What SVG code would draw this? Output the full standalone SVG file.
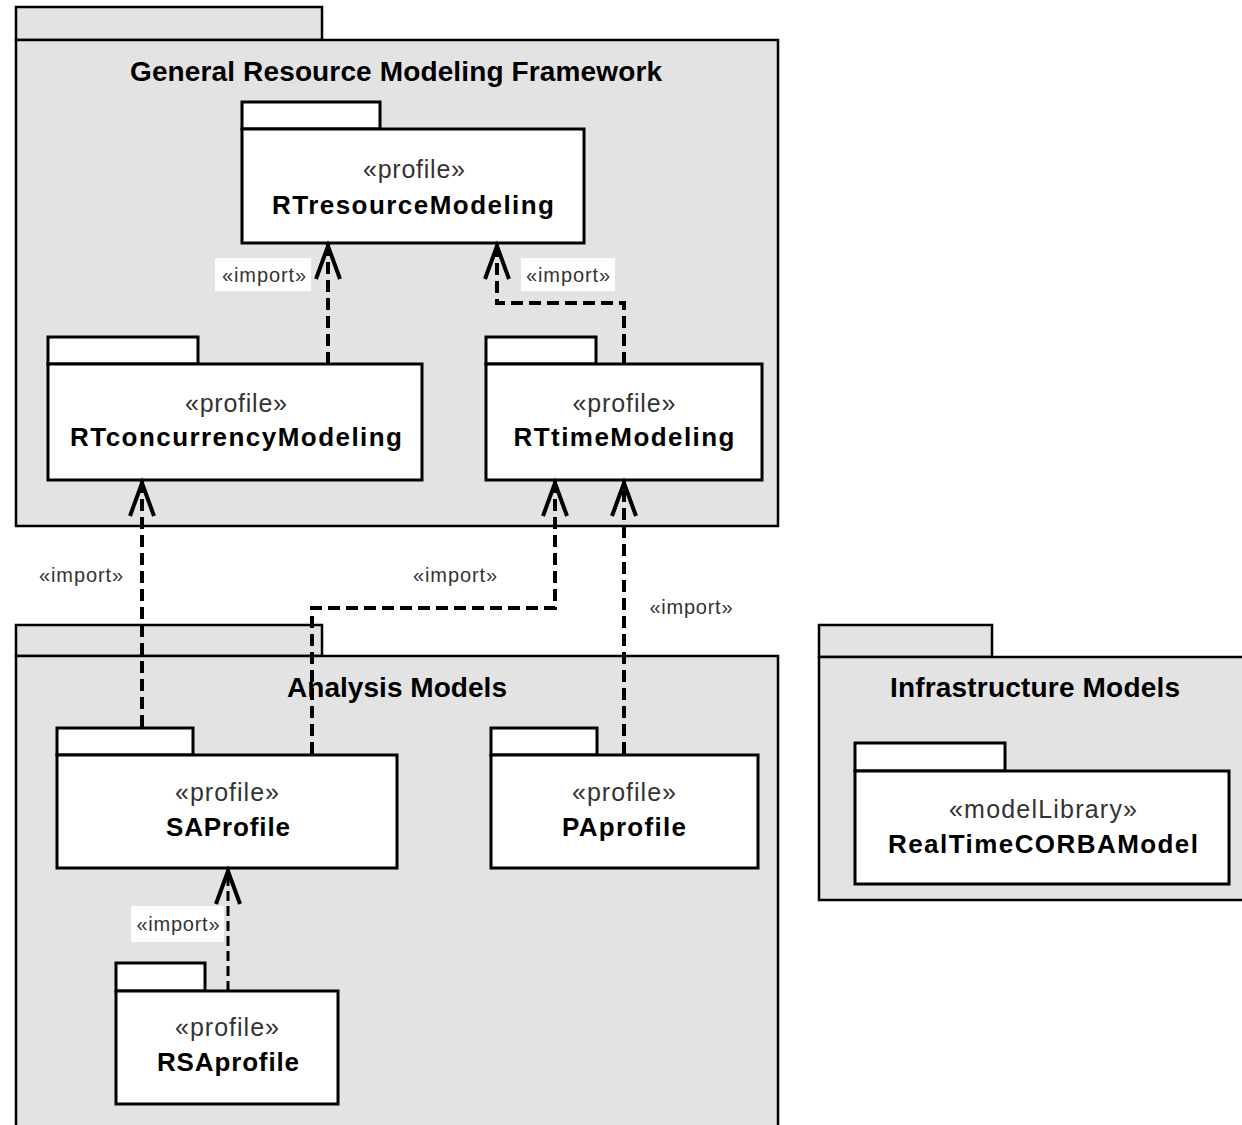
<svg xmlns="http://www.w3.org/2000/svg" width="1242" height="1125" viewBox="0 0 1242 1125">
  <style>
    .outer { fill: #e3e3e3; stroke: #000; stroke-width: 2.5; }
    .inner { fill: #fff; stroke: #000; stroke-width: 3; }
    .title { font-family: "Liberation Sans", Arial, sans-serif; font-weight: bold; font-size: 28px; fill: #000; text-anchor: middle; }
    .stereo { font-family: "Liberation Sans", Arial, sans-serif; font-size: 25px; fill: #333; text-anchor: middle; }
    .name { font-family: "Liberation Sans", Arial, sans-serif; font-weight: bold; font-size: 26px; fill: #000; text-anchor: middle; }
    .lbl { font-family: "Liberation Sans", Arial, sans-serif; font-size: 20px; fill: #333; text-anchor: middle; }
    .lblbg { fill: #fff; stroke: none; }
    .dep { fill: none; stroke: #000; stroke-width: 4; stroke-dasharray: 12 6; marker-end: url(#openArrow); }
    .dep.thin { stroke-width: 3; stroke-dasharray: 10 5; }
  </style>
  <defs>
    <marker id="openArrow" markerUnits="userSpaceOnUse" orient="auto" refX="0" refY="0" markerWidth="1" markerHeight="1" overflow="visible">
      <path d="M -35 -12 L -2 0 L -35 12" fill="none" stroke="#000" stroke-width="4" stroke-linejoin="miter"/>
    </marker>
  </defs>

  <rect width="1242" height="1125" fill="#fff"/>

  <!-- General Resource Modeling Framework -->
  <g id="pkg-grmf">
    <rect class="outer" x="16" y="7" width="306" height="33"/>
    <rect class="outer" x="16" y="40" width="762" height="486"/>
    <text class="title" x="396" y="81" textLength="532" lengthAdjust="spacing">General Resource Modeling Framework</text>
  </g>

  <g id="pkg-rtresource">
    <rect class="inner" x="242" y="102" width="138" height="27"/>
    <rect class="inner" x="242" y="129" width="342" height="114"/>
    <text class="stereo" x="414" y="178" textLength="102" lengthAdjust="spacing">«profile»</text>
    <text class="name" x="413" y="214" textLength="282" lengthAdjust="spacing">RTresourceModeling</text>
  </g>

  <g id="pkg-rtconcurrency">
    <rect class="inner" x="48" y="337" width="150" height="27"/>
    <rect class="inner" x="48" y="364" width="374" height="116"/>
    <text class="stereo" x="236" y="412" textLength="102" lengthAdjust="spacing">«profile»</text>
    <text class="name" x="236" y="446" textLength="332" lengthAdjust="spacing">RTconcurrencyModeling</text>
  </g>

  <g id="pkg-rttime">
    <rect class="inner" x="486" y="337" width="110" height="27"/>
    <rect class="inner" x="486" y="364" width="276" height="116"/>
    <text class="stereo" x="624" y="412" textLength="103" lengthAdjust="spacing">«profile»</text>
    <text class="name" x="624" y="446" textLength="221" lengthAdjust="spacing">RTtimeModeling</text>
  </g>

  <!-- Analysis Models -->
  <g id="pkg-analysis">
    <rect class="outer" x="16" y="625" width="306" height="31"/>
    <rect class="outer" x="16" y="656" width="762" height="480"/>
    <text class="title" x="397" y="697" textLength="220" lengthAdjust="spacing">Analysis Models</text>
  </g>

  <g id="pkg-saprofile">
    <rect class="inner" x="57" y="728" width="136" height="27"/>
    <rect class="inner" x="57" y="755" width="340" height="113"/>
    <text class="stereo" x="227" y="801" textLength="104" lengthAdjust="spacing">«profile»</text>
    <text class="name" x="228" y="836" textLength="124" lengthAdjust="spacing">SAProfile</text>
  </g>

  <g id="pkg-paprofile">
    <rect class="inner" x="491" y="728" width="106" height="27"/>
    <rect class="inner" x="491" y="755" width="267" height="113"/>
    <text class="stereo" x="624" y="801" textLength="104" lengthAdjust="spacing">«profile»</text>
    <text class="name" x="624" y="836" textLength="124" lengthAdjust="spacing">PAprofile</text>
  </g>

  <g id="pkg-rsaprofile">
    <rect class="inner" x="116" y="963" width="89" height="28"/>
    <rect class="inner" x="116" y="991" width="222" height="113"/>
    <text class="stereo" x="227" y="1036" textLength="104" lengthAdjust="spacing">«profile»</text>
    <text class="name" x="228" y="1071" textLength="142" lengthAdjust="spacing">RSAprofile</text>
  </g>

  <!-- Infrastructure Models -->
  <g id="pkg-infrastructure">
    <rect class="outer" x="819" y="625" width="173" height="32"/>
    <rect class="outer" x="819" y="657" width="430" height="243"/>
    <text class="title" x="1035" y="697" textLength="290" lengthAdjust="spacing">Infrastructure Models</text>
  </g>

  <g id="pkg-realtimecorba">
    <rect class="inner" x="855" y="743" width="150" height="28"/>
    <rect class="inner" x="855" y="771" width="374" height="113"/>
    <text class="stereo" x="1043" y="818" textLength="188" lengthAdjust="spacing">«modelLibrary»</text>
    <text class="name" x="1043" y="853" textLength="310" lengthAdjust="spacing">RealTimeCORBAModel</text>
  </g>

  <!-- import dependencies -->
  <g id="connectors">
    <path class="dep" d="M 328 364 L 328 244"/>
    <path class="dep" d="M 624 364 L 624 303 L 497 303 L 497 244"/>
    <path class="dep" d="M 142 727 L 142 481"/>
    <path class="dep" d="M 312 754 L 312 608 L 555 608 L 555 481"/>
    <path class="dep" d="M 624 754 L 624 481"/>
    <path class="dep thin" d="M 228 991 L 228 869"/>

    <rect class="lblbg" x="215" y="258" width="96" height="33"/>
    <text class="lbl" x="264" y="282" textLength="84" lengthAdjust="spacing">«import»</text>
    <rect class="lblbg" x="521" y="258" width="94" height="33"/>
    <text class="lbl" x="568" y="282" textLength="84" lengthAdjust="spacing">«import»</text>
    <text class="lbl" x="81" y="582" textLength="84" lengthAdjust="spacing">«import»</text>
    <text class="lbl" x="455" y="582" textLength="84" lengthAdjust="spacing">«import»</text>
    <text class="lbl" x="691" y="614" textLength="83" lengthAdjust="spacing">«import»</text>
    <rect class="lblbg" x="131" y="906" width="93" height="36"/>
    <text class="lbl" x="178" y="931" textLength="83" lengthAdjust="spacing">«import»</text>
  </g>
</svg>
